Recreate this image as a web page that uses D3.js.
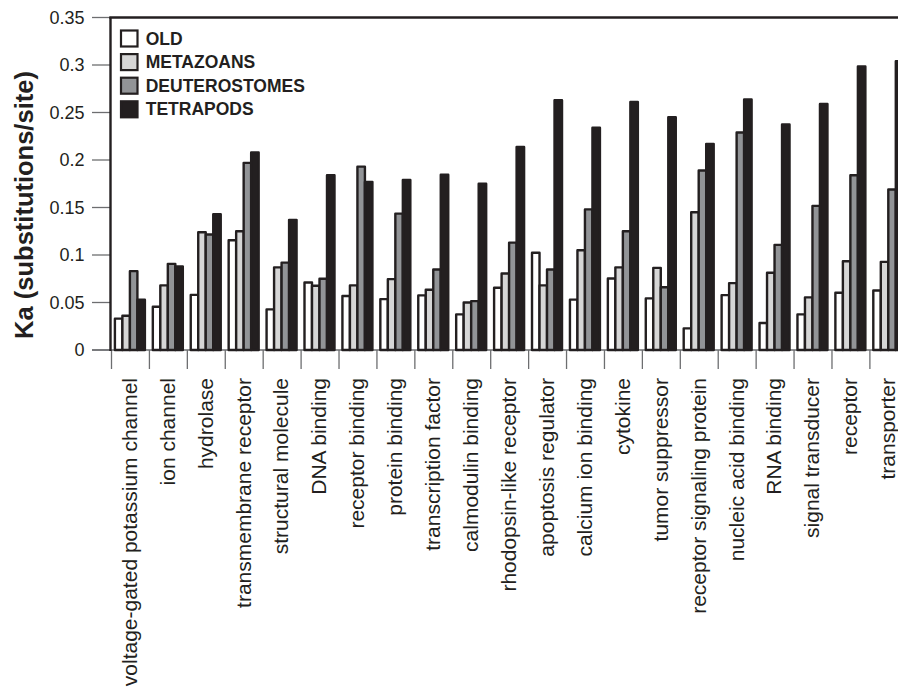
<!DOCTYPE html>
<html>
<head>
<meta charset="utf-8">
<script src="https://cdn.jsdelivr.net/npm/d3@7"></script>
<style>
  html, body { margin: 0; padding: 0; background: #fff; overflow: hidden; }
  svg { display: block; }
  text { font-family: "Liberation Sans", Arial, Helvetica, sans-serif; fill: #231f20; }
</style>
</head>
<body>
<script>
const categories = ["voltage-gated potassium channel", "ion channel", "hydrolase", "transmembrane receptor",
  "structural molecule", "DNA binding", "receptor binding", "protein binding", "transcription factor",
  "calmodulin binding", "rhodopsin-like receptor", "apoptosis regulator", "calcium ion binding", "cytokine",
  "tumor suppressor", "receptor signaling protein", "nucleic acid binding", "RNA binding", "signal transducer",
  "receptor", "transporter"];
const seriesNames = ["OLD", "METAZOANS", "DEUTEROSTOMES", "TETRAPODS"];
const oldVals = [0.033, 0.0455, 0.058, 0.1156, 0.0428, 0.071, 0.0568, 0.0536, 0.0575, 0.0375, 0.0655,
  0.1023, 0.053, 0.0753, 0.0543, 0.0228, 0.0578, 0.0284, 0.0375, 0.0603, 0.0627];
const metazoansVals = [0.036, 0.068, 0.124, 0.125, 0.087, 0.0676, 0.068, 0.0746, 0.0634, 0.050, 0.0806,
  0.068, 0.105, 0.087, 0.0865, 0.145, 0.0704, 0.0813, 0.0554, 0.0935, 0.0928];
const deuterostomesVals = [0.083, 0.0907, 0.1216, 0.197, 0.092, 0.075, 0.193, 0.1436, 0.0848, 0.0515, 0.113,
  0.0848, 0.148, 0.125, 0.066, 0.189, 0.229, 0.1107, 0.1517, 0.184, 0.169];
const tetrapodsVals = [0.053, 0.088, 0.143, 0.208, 0.137, 0.184, 0.177, 0.179, 0.1846, 0.175, 0.2137,
  0.263, 0.234, 0.261, 0.245, 0.217, 0.2638, 0.2375, 0.259, 0.2985, 0.304];
const yTicks = [0, 0.05, 0.1, 0.15, 0.2, 0.25, 0.3, 0.35];
const yTickLabels = ["0", "0.05", "0.1", "0.15", "0.2", "0.25", "0.3", "0.35"];
const yTitle = "Ka (substitutions/site)";

const seriesVals = [oldVals, metazoansVals, deuterostomesVals, tetrapodsVals];
const colors = ["#ffffff", "#d6d6d6", "#929497", "#231f20"];

const W = 898, H = 692;
const svg = d3.select("body").append("svg").attr("width", W).attr("height", H);

const x0 = d3.scaleBand().domain(categories).range([111.5, 111.5 + 21 * 37.92]).padding(0);
const x1 = d3.scaleBand().domain(seriesNames).range([3.4, 33.4]).padding(0);
const y = d3.scaleLinear().domain([0, 0.35]).range([350, 17.5]);
const color = d3.scaleOrdinal().domain(seriesNames).range(colors);

// Y axis ticks
const yAxis = svg.append("g");
yAxis.selectAll("line").data(yTicks).join("line")
  .attr("x1", 92).attr("x2", 110.5)
  .attr("y1", d => y(d)).attr("y2", d => y(d))
  .attr("stroke", "#6d6e70").attr("stroke-width", 1.3);
yAxis.selectAll("text").data(yTicks).join("text")
  .attr("x", 84.5).attr("y", d => y(d))
  .attr("dy", "0.36em")
  .attr("text-anchor", "end")
  .attr("font-size", "18px")
  .text((d, i) => yTickLabels[i]);

// X axis baseline and category ticks
svg.append("line").attr("x1", 92).attr("x2", W).attr("y1", y(0)).attr("y2", y(0))
  .attr("stroke", "#6d6e70").attr("stroke-width", 1.3);
const bounds = categories.map(c => x0(c)).concat([x0(categories[categories.length - 1]) + x0.bandwidth()]);
svg.append("g").selectAll("line").data(bounds).join("line")
  .attr("x1", d => d).attr("x2", d => d)
  .attr("y1", y(0)).attr("y2", y(0) + 19)
  .attr("stroke", "#6d6e70").attr("stroke-width", 1.3);

// Bars
const groups = svg.append("g").selectAll("g").data(categories).join("g")
  .attr("transform", c => `translate(${x0(c)},0)`);
groups.selectAll("rect")
  .data((c, ci) => seriesNames.map((s, si) => ({ s, v: seriesVals[si][ci] })))
  .join("rect")
  .attr("x", d => x1(d.s))
  .attr("width", x1.bandwidth())
  .attr("y", d => y(d.v))
  .attr("height", d => y(0) - y(d.v))
  .attr("fill", d => color(d.s))
  .attr("stroke", "#231f20")
  .attr("stroke-width", 2.4)
  .attr("stroke-linejoin", "round");

// Category labels
svg.append("g").selectAll("text").data(categories).join("text")
  .attr("transform", c => `translate(${x0(c) + x0.bandwidth() / 2 - 1},378) rotate(-90)`)
  .attr("dy", "0.35em")
  .attr("text-anchor", "end")
  .attr("font-size", "21px")
  .text(c => c);

// Frame (left and top)
svg.append("line").attr("x1", 110.5).attr("x2", 110.5).attr("y1", y(0.35)).attr("y2", y(0) + 1)
  .attr("stroke", "#231f20").attr("stroke-width", 2.4);
svg.append("line").attr("x1", 109.3).attr("x2", W).attr("y1", y(0.35)).attr("y2", y(0.35))
  .attr("stroke", "#231f20").attr("stroke-width", 2.4);

// Y title
svg.append("text")
  .attr("transform", "translate(33.3,205) rotate(-90)")
  .attr("text-anchor", "middle")
  .attr("font-size", "25.5px")
  .attr("font-weight", "bold")
  .text(yTitle);

// Legend
const legend = svg.append("g").selectAll("g").data(seriesNames).join("g")
  .attr("transform", (d, i) => `translate(120,${29.5 + i * 23.6})`);
legend.append("rect")
  .attr("x", 1).attr("y", 1).attr("width", 16.5).attr("height", 16)
  .attr("fill", d => color(d)).attr("stroke", "#231f20").attr("stroke-width", 2.2);
legend.append("text")
  .attr("x", 25.7).attr("y", 15)
  .attr("font-size", "17.5px").attr("font-weight", "bold")
  .text(d => d);
</script>
</body>
</html>
